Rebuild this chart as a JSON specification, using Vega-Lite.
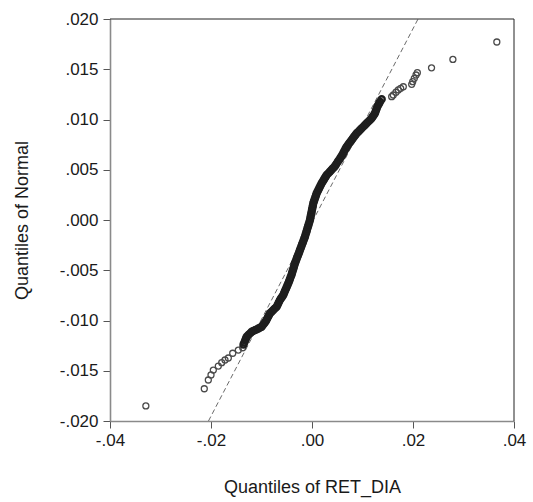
{
  "$schema": "https://vega.github.io/schema/vega-lite/v6.json",
  "width": 404,
  "height": 402,
  "autosize": {"type": "none"},
  "padding": {"left": 110, "top": 19, "right": 19, "bottom": 81},
  "background": "white",
  "view": {"stroke": null},
  "config": {
    "font": "Liberation Sans",
    "axis": {
      "grid": false,
      "domainColor": "#8a8a8a",
      "domainWidth": 1.6,
      "tickColor": "#555",
      "tickWidth": 1,
      "tickSize": 7,
      "labelFont": "Liberation Sans",
      "labelFontSize": 17,
      "labelColor": "#1a1a1a",
      "titleFont": "Liberation Sans",
      "titleFontSize": 18,
      "titleFontWeight": "normal",
      "titleColor": "#1a1a1a"
    }
  },
  "datasets": {
    "band": [
      {"x": -0.01356, "y": -0.01239},
      {"x": -0.0134, "y": -0.0122},
      {"x": -0.01324, "y": -0.012},
      {"x": -0.01309, "y": -0.01181},
      {"x": -0.01293, "y": -0.01161},
      {"x": -0.0126, "y": -0.01144},
      {"x": -0.01227, "y": -0.01128},
      {"x": -0.01194, "y": -0.01111},
      {"x": -0.01161, "y": -0.01103},
      {"x": -0.01128, "y": -0.01096},
      {"x": -0.01095, "y": -0.01088},
      {"x": -0.01062, "y": -0.01079},
      {"x": -0.01029, "y": -0.01071},
      {"x": -0.00996, "y": -0.01062},
      {"x": -0.00968, "y": -0.01043},
      {"x": -0.00939, "y": -0.01024},
      {"x": -0.00911, "y": -0.01005},
      {"x": -0.00891, "y": -0.00986},
      {"x": -0.00871, "y": -0.00966},
      {"x": -0.00852, "y": -0.00947},
      {"x": -0.00832, "y": -0.00928},
      {"x": -0.00799, "y": -0.00912},
      {"x": -0.00766, "y": -0.00896},
      {"x": -0.00732, "y": -0.00879},
      {"x": -0.00699, "y": -0.00863},
      {"x": -0.00677, "y": -0.00841},
      {"x": -0.00656, "y": -0.00818},
      {"x": -0.00634, "y": -0.00796},
      {"x": -0.00612, "y": -0.00779},
      {"x": -0.0059, "y": -0.00763},
      {"x": -0.00568, "y": -0.00746},
      {"x": -0.00552, "y": -0.00727},
      {"x": -0.00535, "y": -0.00707},
      {"x": -0.00519, "y": -0.00688},
      {"x": -0.00502, "y": -0.00669},
      {"x": -0.00486, "y": -0.00649},
      {"x": -0.00469, "y": -0.0063},
      {"x": -0.00453, "y": -0.00609},
      {"x": -0.00438, "y": -0.00589},
      {"x": -0.00422, "y": -0.00568},
      {"x": -0.00406, "y": -0.00547},
      {"x": -0.00395, "y": -0.00528},
      {"x": -0.00383, "y": -0.00508},
      {"x": -0.00372, "y": -0.00489},
      {"x": -0.0036, "y": -0.0047},
      {"x": -0.00349, "y": -0.0045},
      {"x": -0.00337, "y": -0.00431},
      {"x": -0.00323, "y": -0.00412},
      {"x": -0.00309, "y": -0.00393},
      {"x": -0.00295, "y": -0.00374},
      {"x": -0.0028, "y": -0.00356},
      {"x": -0.00266, "y": -0.00337},
      {"x": -0.00252, "y": -0.00318},
      {"x": -0.00238, "y": -0.00299},
      {"x": -0.00224, "y": -0.0028},
      {"x": -0.0021, "y": -0.00261},
      {"x": -0.00196, "y": -0.00242},
      {"x": -0.00181, "y": -0.00223},
      {"x": -0.00167, "y": -0.00204},
      {"x": -0.00153, "y": -0.00185},
      {"x": -0.00139, "y": -0.00166},
      {"x": -0.00127, "y": -0.00145},
      {"x": -0.00114, "y": -0.00124},
      {"x": -0.00102, "y": -0.00104},
      {"x": -0.0009, "y": -0.00083},
      {"x": -0.00077, "y": -0.00062},
      {"x": -0.00065, "y": -0.00042},
      {"x": -0.00052, "y": -0.00021},
      {"x": -0.0004, "y": 0.0},
      {"x": -0.00032, "y": 0.00021},
      {"x": -0.00024, "y": 0.00042},
      {"x": -0.00015, "y": 0.00062},
      {"x": -0.00007, "y": 0.00083},
      {"x": 0.00001, "y": 0.00104},
      {"x": 0.0001, "y": 0.00125},
      {"x": 0.00018, "y": 0.00145},
      {"x": 0.00026, "y": 0.00166},
      {"x": 0.00039, "y": 0.00186},
      {"x": 0.00053, "y": 0.00206},
      {"x": 0.00066, "y": 0.00226},
      {"x": 0.0008, "y": 0.00246},
      {"x": 0.00093, "y": 0.00266},
      {"x": 0.00113, "y": 0.00286},
      {"x": 0.00133, "y": 0.00306},
      {"x": 0.00152, "y": 0.00325},
      {"x": 0.00172, "y": 0.00345},
      {"x": 0.00192, "y": 0.00365},
      {"x": 0.00212, "y": 0.00382},
      {"x": 0.00232, "y": 0.00398},
      {"x": 0.00251, "y": 0.00415},
      {"x": 0.00271, "y": 0.00431},
      {"x": 0.00291, "y": 0.00448},
      {"x": 0.00322, "y": 0.00464},
      {"x": 0.00353, "y": 0.00481},
      {"x": 0.00384, "y": 0.00497},
      {"x": 0.00415, "y": 0.00514},
      {"x": 0.00446, "y": 0.0053},
      {"x": 0.0047, "y": 0.00548},
      {"x": 0.00493, "y": 0.00566},
      {"x": 0.00517, "y": 0.00584},
      {"x": 0.00541, "y": 0.00601},
      {"x": 0.00564, "y": 0.00619},
      {"x": 0.00588, "y": 0.00637},
      {"x": 0.00608, "y": 0.00655},
      {"x": 0.00628, "y": 0.00674},
      {"x": 0.00647, "y": 0.00692},
      {"x": 0.00667, "y": 0.00711},
      {"x": 0.00687, "y": 0.00729},
      {"x": 0.00712, "y": 0.00746},
      {"x": 0.00737, "y": 0.00763},
      {"x": 0.00761, "y": 0.00779},
      {"x": 0.00786, "y": 0.00796},
      {"x": 0.00811, "y": 0.00813},
      {"x": 0.00836, "y": 0.0083},
      {"x": 0.0086, "y": 0.00846},
      {"x": 0.00885, "y": 0.00863},
      {"x": 0.00918, "y": 0.00879},
      {"x": 0.00951, "y": 0.00896},
      {"x": 0.00984, "y": 0.00912},
      {"x": 0.01017, "y": 0.00929},
      {"x": 0.0105, "y": 0.00945},
      {"x": 0.01083, "y": 0.00962},
      {"x": 0.01116, "y": 0.00979},
      {"x": 0.01149, "y": 0.00995},
      {"x": 0.01182, "y": 0.01012},
      {"x": 0.01204, "y": 0.01029},
      {"x": 0.01226, "y": 0.01045},
      {"x": 0.01248, "y": 0.01062},
      {"x": 0.01263, "y": 0.01084},
      {"x": 0.01278, "y": 0.01105},
      {"x": 0.01293, "y": 0.01127},
      {"x": 0.01311, "y": 0.01144},
      {"x": 0.01329, "y": 0.0116},
      {"x": 0.01347, "y": 0.01177},
      {"x": 0.0138, "y": 0.01201}
    ],
    "tails": [
      {"x": -0.0329, "y": -0.0185},
      {"x": -0.02133, "y": -0.01679},
      {"x": -0.02053, "y": -0.01592},
      {"x": -0.02, "y": -0.01542},
      {"x": -0.01954, "y": -0.01493},
      {"x": -0.01855, "y": -0.01453},
      {"x": -0.01788, "y": -0.0142},
      {"x": -0.01723, "y": -0.01393},
      {"x": -0.01657, "y": -0.01373},
      {"x": -0.0157, "y": -0.01326},
      {"x": -0.01459, "y": -0.01294},
      {"x": -0.01372, "y": -0.01271},
      {"x": 0.01578, "y": 0.01227},
      {"x": 0.0161, "y": 0.01244},
      {"x": 0.01663, "y": 0.01271},
      {"x": 0.01709, "y": 0.01294},
      {"x": 0.01756, "y": 0.0131},
      {"x": 0.01808, "y": 0.01326},
      {"x": 0.01974, "y": 0.0135},
      {"x": 0.01994, "y": 0.01376},
      {"x": 0.02026, "y": 0.0141},
      {"x": 0.0206, "y": 0.01443},
      {"x": 0.02086, "y": 0.01466},
      {"x": 0.02367, "y": 0.01514},
      {"x": 0.0279, "y": 0.01598},
      {"x": 0.0366, "y": 0.01771}
    ],
    "ref": [
      {"x": -0.0205, "y": -0.02},
      {"x": 0.021, "y": 0.02}
    ]
  },
  "layer": [
    {
      "data": {"name": "ref"},
      "mark": {"type": "line", "color": "#6a6a6a", "strokeWidth": 1, "strokeDash": [5, 3], "clip": true},
      "encoding": {
        "x": {"field": "x", "type": "quantitative"},
        "y": {"field": "y", "type": "quantitative"}
      }
    },
    {
      "data": {"name": "tails"},
      "mark": {"type": "point", "shape": "circle", "filled": false, "size": 36, "strokeWidth": 1.3, "color": "#4a4a4a", "opacity": 1},
      "encoding": {
        "x": {
          "field": "x",
          "type": "quantitative",
          "scale": {"domain": [-0.04, 0.04], "nice": false, "zero": false},
          "axis": {
            "title": "Quantiles of RET_DIA",
            "values": [-0.04, -0.02, 0, 0.02, 0.04],
            "labelExpr": "replace(replace(format(datum.value, '.2f'), '0.', '.'), '\u2212', '-')",
            "labelPadding": 4,
            "titlePadding": 30,
            "labelFlush": false
          }
        },
        "y": {
          "field": "y",
          "type": "quantitative",
          "scale": {"domain": [-0.02, 0.02], "nice": false, "zero": false},
          "axis": {
            "title": "Quantiles of Normal",
            "values": [-0.02, -0.015, -0.01, -0.005, 0, 0.005, 0.01, 0.015, 0.02],
            "labelExpr": "replace(replace(format(datum.value, '.3f'), '0.', '.'), '\u2212', '-')",
            "labelPadding": 5,
            "titlePadding": 28,
            "labelFlush": false
          }
        }
      }
    },
    {
      "data": {"name": "band"},
      "mark": {"type": "point", "shape": "circle", "filled": false, "size": 36, "strokeWidth": 2.4, "color": "#1e1e1e", "opacity": 1},
      "encoding": {
        "x": {"field": "x", "type": "quantitative"},
        "y": {"field": "y", "type": "quantitative"}
      }
    },
    {
      "data": {"values": [{}]},
      "mark": {"type": "rule", "color": "#222", "strokeWidth": 1},
      "encoding": {"y": {"datum": 0.02}}
    },
    {
      "data": {"values": [{}]},
      "mark": {"type": "rule", "color": "#222", "strokeWidth": 1},
      "encoding": {"x": {"datum": 0.04}}
    }
  ]
}
